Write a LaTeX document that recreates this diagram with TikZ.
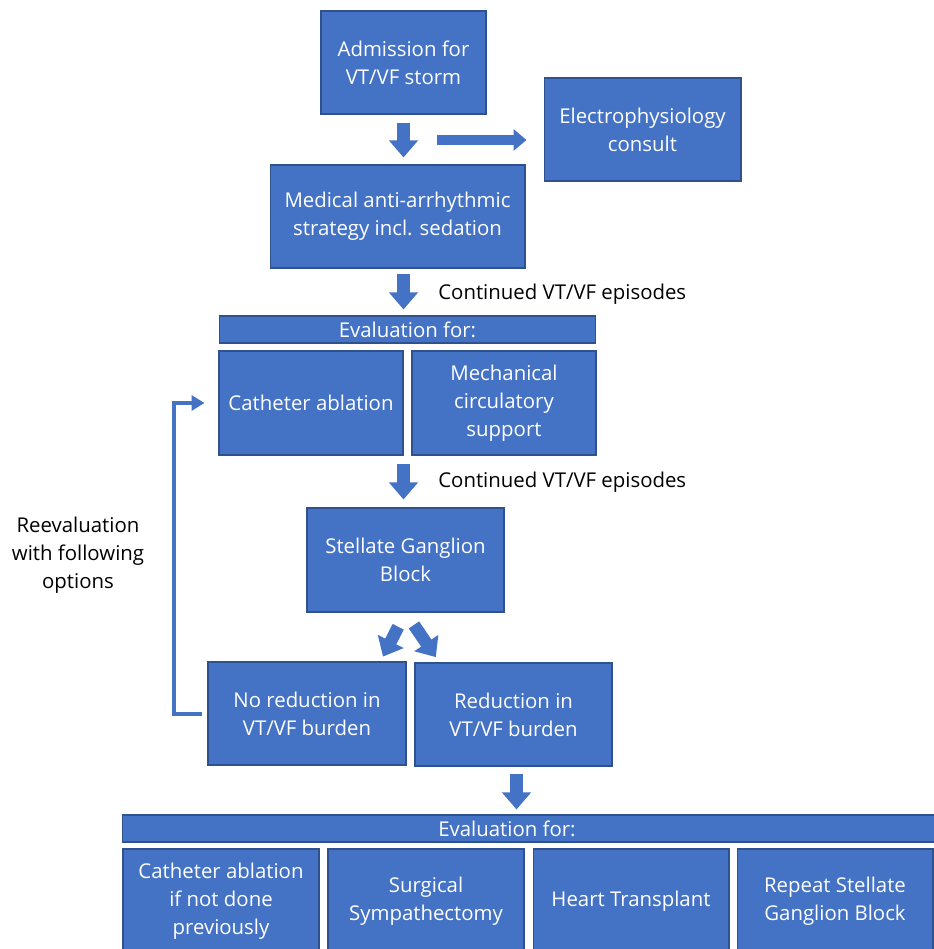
\documentclass[tikz,border=0pt]{standalone}
\usepackage{fontspec}
\setmainfont{Open Sans}
\usepackage{tikz}
\usetikzlibrary{arrows.meta,calc}
\definecolor{boxblue}{HTML}{4472C4}
\definecolor{boxedge}{HTML}{2F528F}

\begin{document}
\begin{tikzpicture}[x=0.02cm, y=-0.02cm,
	box/.style={rectangle, draw=boxedge, line width=0.6pt, fill=boxblue, text=white, align=center, inner sep=1pt, minimum height=2.06cm, font=\fontsize{11.6}{15.9}\selectfont},
	bar/.style={box, minimum height=0.54cm},
	plain/.style={align=center, inner sep=0pt, font=\fontsize{11.6}{15.9}\selectfont},
	blockarrow/.style={boxblue, line width=0.25cm, -{Triangle[width=0.56cm, length=0.34cm]}}]
	\useasboundingbox (0,0) rectangle (933,949);

	\node[box, minimum width=3.3cm] at (403.5,62.5) (adm) {Admission for\\VT/VF storm};
	\node[box, minimum width=3.94cm] at (642.5,129.5) (ep) {Electrophysiology\\consult};
	\node[box, minimum width=5.1cm] at (397.5,216.5) (med) {Medical anti-arrhythmic\\strategy incl. sedation};
	\node[bar, minimum width=7.54cm] at (407.5,329.5) (eval1) {Evaluation for:};
	\node[box, minimum width=3.68cm, minimum height=2.08cm] at (311,403) (cath) {Catheter ablation};
	\node[box, minimum width=3.68cm, minimum height=2.08cm] at (504,403) (mcs) {Mechanical\\circulatory\\support};
	\node[box, minimum width=3.94cm, minimum height=2.08cm] at (405.5,560) (sgb) {Stellate Ganglion\\Block};
	\node[box, minimum width=3.96cm] at (307,713.5) (nored) {No reduction in\\VT/VF burden};
	\node[box, minimum width=3.94cm] at (513.5,714.5) (red) {Reduction in\\VT/VF burden};
	\node[bar, minimum width=16.76cm] at (541,828.5) (eval2) {Evaluation for:\hspace*{1.36cm}};
	\node[box, minimum width=3.92cm, minimum height=2.08cm] at (221,901) (cathb) {Catheter ablation\\if not done\\previously};
	\node[box, minimum width=3.92cm, minimum height=2.08cm] at (426,901) (symp) {Surgical\\Sympathectomy};
	\node[box, minimum width=3.92cm, minimum height=2.08cm] at (631,901) (htx) {Heart Transplant};
	\node[box, minimum width=3.92cm, minimum height=2.08cm] at (835,901) (rsgb) {Repeat Stellate\\Ganglion Block};

	\node[plain, anchor=west] at (438,294) (cont1) {Continued VT/VF episodes};
	\node[plain, anchor=west] at (438,482) (cont2) {Continued VT/VF episodes};
	\node[plain] at (78,555) (reeval) {Reevaluation\\with following\\options};

	% block arrows
	\coordinate (epin) at (437,140);
	\draw[blockarrow, shorten <=0.16cm, shorten >=0.14cm] (adm.south) -- (adm.south |- med.north);
	\draw[blockarrow, line width=0.19cm, -{Triangle[width=0.42cm, length=0.26cm]}, shorten >=0.34cm] (epin) -- (epin -| ep.west);
	\draw[blockarrow, shorten <=0.1cm, shorten >=0.12cm] ($(med.south)+(6,0)$) -- ($(eval1.north)+(-4,0)$);
	\draw[blockarrow, shorten <=0.16cm, shorten >=0.16cm] ($(sgb.north |- cath.south)+(-2,0)$) -- ($(sgb.north)+(-2,0)$);
	\draw[blockarrow, shorten <=0.32cm, shorten >=0.11cm] (sgb.south) -- ([xshift=-0.52cm]nored.north east);
	\draw[blockarrow, shorten <=0.3cm, shorten >=0.13cm] (sgb.south) -- ([xshift=0.5cm]red.north west);
	\draw[blockarrow, shorten <=0.14cm, shorten >=0.1cm] ($(red.south)+(3,0)$) -- ($(red.south |- eval2.north)+(3,0)$);

	% reevaluation loop
	\draw[boxblue, line width=0.08cm, -{Triangle[width=0.3cm, length=0.26cm]}, shorten <=0.1cm, shorten >=0.28cm] (nored.west) -- ++(-33,0) |- (cath.west);
\end{tikzpicture}
\end{document}
